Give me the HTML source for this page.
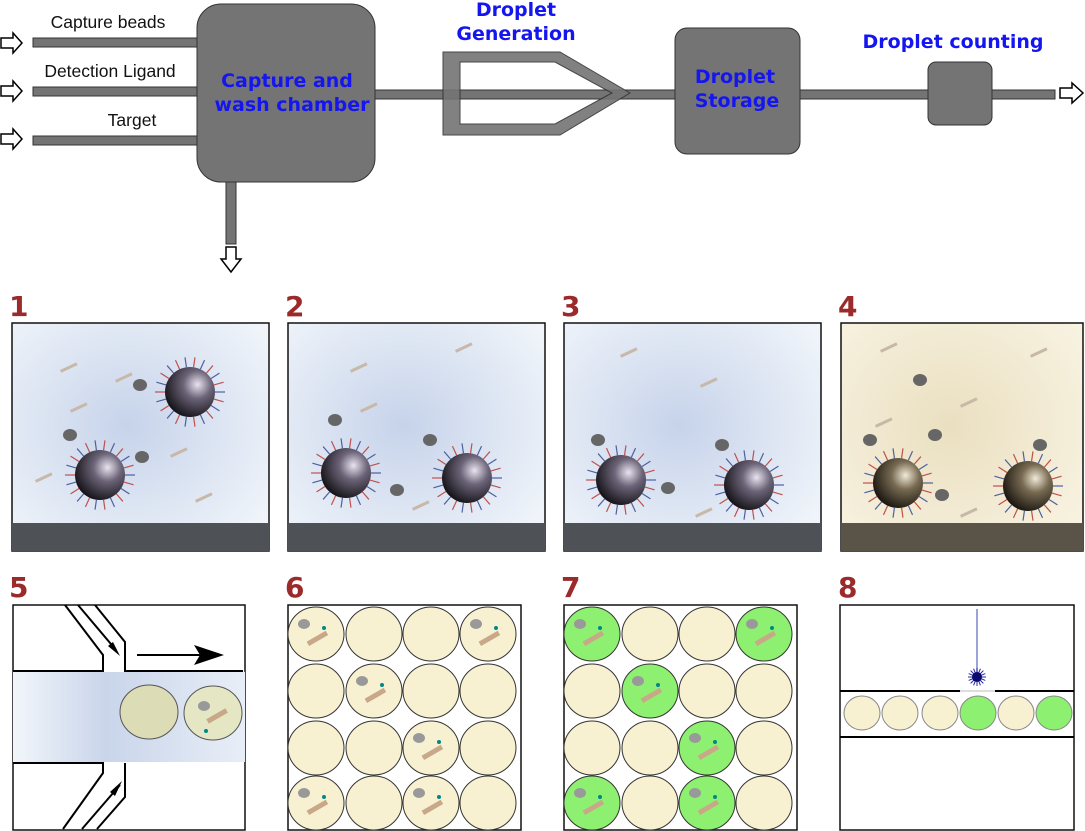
<!DOCTYPE html>
<html><head><meta charset="utf-8"><style>
html,body{margin:0;padding:0;background:#fff;}
svg{display:block;font-family:"DejaVu Sans","Liberation Sans",sans-serif;}
</style></head><body>
<svg id="s" width="1085" height="831" viewBox="0 0 1085 831" xmlns="http://www.w3.org/2000/svg">
<defs>
<radialGradient id="bl" cx="0.45" cy="0.45" r="0.7"><stop offset="0" stop-color="#c6d3ea"/><stop offset="1" stop-color="#f2f6fb"/></radialGradient>
<radialGradient id="be" cx="0.45" cy="0.45" r="0.7"><stop offset="0" stop-color="#eadfc0"/><stop offset="1" stop-color="#f8f3e2"/></radialGradient>
<linearGradient id="ch" x1="0" x2="1"><stop offset="0" stop-color="#f2f6fb"/><stop offset="0.4" stop-color="#c9d5ea"/><stop offset="1" stop-color="#e8eef7"/></linearGradient>
<radialGradient id="sp" cx="0.65" cy="0.35" r="0.7"><stop offset="0" stop-color="#e8e4f0"/><stop offset="0.4" stop-color="#6c6478"/><stop offset="1" stop-color="#151318"/></radialGradient>
<radialGradient id="sp2" cx="0.65" cy="0.35" r="0.7"><stop offset="0" stop-color="#f0ead8"/><stop offset="0.4" stop-color="#786a52"/><stop offset="1" stop-color="#1a1610"/></radialGradient>
</defs>
<g fill="#747474" stroke="#333" stroke-width="1">
<rect x="33" y="38" width="164" height="9"/><rect x="33" y="87" width="164" height="9"/><rect x="33" y="136" width="164" height="9"/>
<rect x="226" y="180" width="10" height="64"/>
<rect x="375" y="90" width="300" height="9"/>
<rect x="800" y="90" width="255" height="9"/>
<path d="M443 52 H560 L630 93 L560 135 H443 Z M460 62 V124 H555 L612 93 L555 62 Z" fill-rule="evenodd" opacity="0.9"/>
<rect x="197" y="4" width="178" height="178" rx="24"/>
<rect x="675" y="28" width="125" height="126" rx="12"/>
<rect x="928" y="62" width="64" height="63" rx="8"/>
</g>
<g fill="#fff" stroke="#000" stroke-width="1.5">
<path d="M1 38 H13 V33 L22 43 L13 53 V48 H1 Z"/>
<path d="M1 86 H13 V81 L22 91 L13 101 V96 H1 Z"/>
<path d="M1 134 H13 V129 L22 139 L13 149 V144 H1 Z"/>
<path d="M1060 88 H1072 V83 L1083 93 L1072 103 V98 H1060 Z"/>
<path d="M226 247 V259 H221 L231 272 L241 259 H236 V247 Z"/>
</g>
<g font-size="17.5" fill="#111" text-anchor="middle" font-family="Liberation Sans, sans-serif">
<text x="108" y="28">Capture beads</text><text x="110" y="77">Detection Ligand</text><text x="132" y="126">Target</text>
</g>
<g font-size="19" font-weight="bold" fill="#1515f0" text-anchor="middle">
<text x="287" y="87">Capture and</text><text x="292" y="111">wash chamber</text>
<text x="516" y="16">Droplet</text><text x="516" y="40">Generation</text>
<text x="735" y="83">Droplet</text><text x="737" y="107">Storage</text>
<text x="953" y="48">Droplet counting</text>
</g>
<g font-size="28" font-weight="bold" fill="#9b2a2a">
<text x="9" y="316">1</text><text x="285" y="316">2</text><text x="561" y="316">3</text><text x="838" y="316">4</text>
<text x="9" y="597">5</text><text x="285" y="597">6</text><text x="561" y="597">7</text><text x="838" y="597">8</text>
</g>
<g stroke="#111" stroke-width="1.5">
<rect x="12" y="323" width="257" height="228" fill="url(#bl)"/>
<rect x="288" y="323" width="257" height="228" fill="url(#bl)"/>
<rect x="564" y="323" width="257" height="228" fill="url(#bl)"/>
<rect x="841" y="323" width="242" height="228" fill="url(#be)"/>
</g>
<g fill="#4e5256"><rect x="12" y="523" width="257" height="28"/><rect x="288" y="523" width="257" height="28"/><rect x="564" y="523" width="257" height="28"/><rect x="841" y="523" width="242" height="28" fill="#5a5448"/></g>
<g id="beads"></g>
<!-- panel 5 -->
<rect x="13" y="605" width="232" height="225" fill="#fff" stroke="#111" stroke-width="1.5"/>
<rect x="13" y="672" width="232" height="90" fill="url(#ch)"/>
<g stroke="#000" stroke-width="2" fill="none">
<path d="M13 671 H103 V655 L65 605"/><path d="M95 605 L125 642 V671 H243"/>
<path d="M78 605 L116 650"/>
<path d="M13 763 H103 V773 L63 829"/><path d="M125 763 V797 L97 829"/><path d="M82 829 L120 785"/>
<path d="M137 655 H210"/>
</g>
<path d="M224 655 L194 645 L200 655 L194 665 Z" fill="#000"/>
<path d="M120 656 L108 646 L113 642 Z" fill="#000"/>
<path d="M122 781 L110 792 L115 796 Z" fill="#000"/>
<ellipse cx="149" cy="712" rx="29" ry="27" fill="#dcdcb6" stroke="#555"/>
<ellipse cx="213" cy="713" rx="29" ry="27" fill="#e4e6c4" stroke="#555"/>
<ellipse cx="204" cy="706" rx="6" ry="5" fill="#999"/>
<rect x="206" y="714" width="22" height="5" fill="#c8a888" transform="rotate(-30 216 716)"/>
<circle cx="206" cy="731" r="2" fill="#088"/>
<rect x="288" y="605" width="233" height="225" fill="#fff" stroke="#111" stroke-width="1.5"/>
<rect x="564" y="605" width="233" height="225" fill="#fff" stroke="#111" stroke-width="1.5"/>
<rect x="840" y="605" width="234" height="225" fill="#fff" stroke="#111" stroke-width="1.5"/>
<path d="M840 691 H1074 M840 737 H1074" stroke="#000" stroke-width="2"/>
<path d="M960 691 H995" stroke="#ddd" stroke-width="2"/>
<path d="M977 609 V676" stroke="#7a84cc" stroke-width="1.5"/>
<g id="star"></g>
<g id="drops"></g>
<script>
var NS="http://www.w3.org/2000/svg";
function el(p,t,a){var e=document.createElementNS(NS,t);for(var k in a)e.setAttribute(k,a[k]);document.getElementById(p).appendChild(e);return e;}
var cr="#f7f1d2",gr="#8ef070";
var xs=[316,374,431,488],ys=[634,691,748,803];
var on=[[0,0],[3,0],[1,1],[2,2],[0,3],[2,3]];
function isOn(i,j){return on.some(function(o){return o[0]==i&&o[1]==j});}
for(var j=0;j<4;j++)for(var i=0;i<4;i++){
 el("drops","ellipse",{cx:xs[i],cy:ys[j],rx:28,ry:27,fill:cr,stroke:"#333"});
 var g=isOn(i,j);
 el("drops","ellipse",{cx:xs[i]+276,cy:ys[j],rx:28,ry:27,fill:g?gr:cr,stroke:"#333"});
 if(g){[0,276].forEach(function(o){
  el("drops","ellipse",{cx:xs[i]+o-12,cy:ys[j]-10,rx:6,ry:5,fill:"#999"});
  el("drops","rect",{x:xs[i]+o-12,y:ys[j]+2,width:22,height:5,fill:"#c8a888",transform:"rotate(-30 "+(xs[i]+o)+" "+ys[j]+")"});
  el("drops","circle",{cx:xs[i]+o+8,cy:ys[j]-6,r:2,fill:"#088"});});}
}
[862,900,940,978,1016,1054].forEach(function(x,k){el("drops","ellipse",{cx:x,cy:713,rx:18,ry:17,fill:(k==3||k==5)?gr:cr,stroke:"#888"});});
for(var a=0;a<16;a++){var t=a*Math.PI/8;el("star","line",{x1:977,y1:677,x2:977+9*Math.cos(t),y2:677+9*Math.sin(t),stroke:"#2a2aa0","stroke-width":1});}
el("star","circle",{cx:977,cy:677,r:5,fill:"#0a0a70"});
var B=[[190,392,"sp"],[100,475,"sp"],[346,473,"sp"],[467,478,"sp"],[621,480,"sp"],[749,485,"sp"],[898,483,"sp2"],[1028,486,"sp2"]];
B.forEach(function(b){
 for(var a=0;a<22;a++){var t=a*Math.PI*2/22;el("beads","line",{x1:b[0]+25*Math.cos(t),y1:b[1]+25*Math.sin(t),x2:b[0]+35*Math.cos(t),y2:b[1]+35*Math.sin(t),stroke:a%2?"#c05050":"#5060a0","stroke-width":1.2});}
 el("beads","circle",{cx:b[0],cy:b[1],r:25,fill:"url(#"+b[2]+")"});
});
var blobs=[[140,385],[70,435],[142,457],[335,420],[430,440],[397,490],[598,440],[722,445],[668,488],[920,380],[1040,445],[942,495],[870,440],[935,435]];
blobs.forEach(function(p){el("beads","ellipse",{cx:p[0],cy:p[1],rx:7,ry:6,fill:"#666"});});
var sticks=[[60,370],[115,380],[70,410],[35,480],[170,455],[195,500],[350,370],[360,410],[455,350],[412,508],[620,355],[700,385],[695,515],[880,350],[960,405],[1030,355],[875,425],[960,515]];
sticks.forEach(function(p){el("beads","rect",{x:p[0],y:p[1],width:18,height:3,fill:"#c8b8a8",transform:"rotate(-25 "+p[0]+" "+p[1]+")"});});
</script>
</svg>
</body></html>
